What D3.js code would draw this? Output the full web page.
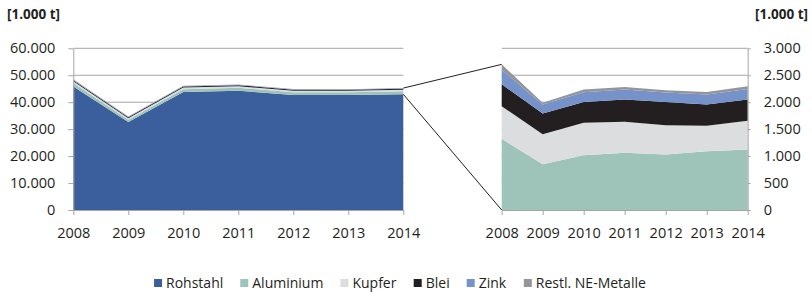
<!DOCTYPE html>
<html>
<head>
<meta charset="utf-8">
<script src="https://cdn.jsdelivr.net/npm/d3@7"></script>
<style>
	body { margin: 0; background: #fff; }
	text { font-family: 'Open Sans', sans-serif; fill: #231f20; }
</style>
</head>
<body>
<div id="viz"></div>
<script>
var years = [2008, 2009, 2010, 2011, 2012, 2013, 2014];

// all values in 1.000 t
var rohstahl   = [45833, 32670, 43830, 44284, 42661, 42645, 42943];
var aluminium  = [1320, 851, 1018, 1061, 1030, 1092, 1123];
var kupfer     = [605, 556, 599, 574, 543, 469, 531];
var blei       = [407, 382, 388, 413, 432, 395, 394];
var zink       = [272, 167, 179, 186, 173, 185, 198];
var restl      = [98, 34, 50, 49, 43, 49, 49];

var seriesNames = ['Rohstahl', 'Aluminium', 'Kupfer', 'Blei', 'Zink', 'Restl. NE-Metalle'];
var colors = ['#3b5f9d', '#9ec4ba', '#dcdddf', '#231f20', '#7692cb', '#939598'];

var leftTicks = [0, 10000, 20000, 30000, 40000, 50000, 60000];
var rightTicks = [0, 500, 1000, 1500, 2000, 2500, 3000];

var width = 812, height = 292;
var fmt = d3.formatLocale({ decimal: ',', thousands: '.', grouping: [3], currency: ['', ''] }).format(',d');

var svg = d3.select('#viz').append('svg')
	.attr('width', width)
	.attr('height', height);

var table = years.map(function(y, i) {
	return {
		year: y,
		'Rohstahl': rohstahl[i],
		'Aluminium': aluminium[i],
		'Kupfer': kupfer[i],
		'Blei': blei[i],
		'Zink': zink[i],
		'Restl. NE-Metalle': restl[i]
	};
});

var plotTop = 48.3, plotBottom = 210;
var axisColor = '#a6a6a6';

// ---- left chart: all metals
var xL = d3.scalePoint().domain(years).range([73.3, 403.3]);
var yL = d3.scaleLinear().domain([0, 60000]).range([plotBottom, plotTop]);

// ---- right chart: only non-ferrous
var xR = d3.scalePoint().domain(years).range([501.7, 747.7]);
var yR = d3.scaleLinear().domain([0, 3000]).range([plotBottom, plotTop]);

var stackAll = d3.stack().keys(seriesNames)(table);
var stackNE = d3.stack().keys(seriesNames.slice(1))(table);

function drawChart(x, y, ticks, stacked, colorOffset, side) {
	var g = svg.append('g');
	var x0 = x.range()[0], x1 = x.range()[1];

	g.selectAll('.grid')
		.data(ticks.filter(function(t) { return t > 0; }))
		.enter().append('line')
		.attr('x1', x0).attr('x2', x1)
		.attr('y1', function(d) { return y(d); })
		.attr('y2', function(d) { return y(d); })
		.attr('stroke', axisColor)
		.attr('stroke-width', 1);

	var area = d3.area()
		.x(function(d) { return x(d.data.year); })
		.y0(function(d) { return y(d[0]); })
		.y1(function(d) { return y(d[1]); });

	g.selectAll('.layer')
		.data(stacked)
		.enter().append('path')
		.attr('d', area)
		.attr('fill', function(d, i) { return colors[i + colorOffset]; });

	// x axis
	var xAxis = g.append('g')
		.attr('transform', 'translate(0,' + plotBottom + ')')
		.call(d3.axisBottom(x).tickSize(5).tickPadding(13).tickSizeOuter(0));
	xAxis.select('.domain').attr('stroke', axisColor);
	xAxis.selectAll('.tick line').attr('stroke', axisColor);
	xAxis.selectAll('text').style('font-size', '14.5px').style('font-family', "'Open Sans', sans-serif").attr('fill', '#231f20');

	// y axis
	var yAxis = side === 'left'
		? d3.axisLeft(y).tickValues(ticks).tickFormat(fmt).tickSize(5).tickPadding(13).tickSizeOuter(0)
		: d3.axisRight(y).tickValues(ticks).tickFormat(fmt).tickSize(3).tickPadding(13).tickSizeOuter(0);
	var ya = g.append('g')
		.attr('transform', 'translate(' + (side === 'left' ? x0 : x1) + ',0)')
		.call(yAxis);
	ya.select('.domain').attr('stroke', axisColor);
	ya.selectAll('.tick line').attr('stroke', axisColor);
	ya.selectAll('text').style('font-size', '14.5px').style('font-family', "'Open Sans', sans-serif").attr('fill', '#231f20');
}

drawChart(xL, yL, leftTicks, stackAll, 0, 'left');
drawChart(xR, yR, rightTicks, stackNE, 1, 'right');

// unit labels
svg.append('text').attr('x', 7).attr('y', 19)
	.style('font-size', '13.5px').style('font-weight', 'bold')
	.text('[1.000 t]');
svg.append('text').attr('x', 808).attr('y', 19)
	.attr('text-anchor', 'end')
	.style('font-size', '13.5px').style('font-weight', 'bold')
	.text('[1.000 t]');

// zoom connector lines
var last = table.length - 1;
var totalLast = stackAll[stackAll.length - 1][last][1];
var steelLast = stackAll[0][last][1];
var totalFirstNE = stackNE[stackNE.length - 1][0][1];

svg.append('line')
	.attr('x1', xL(years[last])).attr('y1', yL(totalLast))
	.attr('x2', xR(years[0])).attr('y2', yR(totalFirstNE))
	.attr('stroke', '#231f20').attr('stroke-width', 1);
svg.append('line')
	.attr('x1', xL(years[last])).attr('y1', yL(steelLast))
	.attr('x2', xR(years[0])).attr('y2', yR(0))
	.attr('stroke', '#231f20').attr('stroke-width', 1);

// legend
var legend = svg.append('g').attr('transform', 'translate(0,283)');
var items = legend.selectAll('.item')
	.data(seriesNames)
	.enter().append('g');

items.append('rect')
	.attr('y', -4).attr('width', 8).attr('height', 8)
	.attr('fill', function(d, i) { return colors[i]; });
items.append('text')
	.attr('x', 12).attr('y', 5)
	.style('font-size', '14px')
	.text(function(d) { return d; });

var cursor = 0;
items.each(function() {
	var w = this.getBBox().width;
	d3.select(this).attr('transform', 'translate(' + cursor + ',0)');
	cursor += w + 17;
});
var totalW = cursor - 17;
legend.attr('transform', 'translate(' + (400 - totalW / 2) + ',283)');
</script>
</body>
</html>
